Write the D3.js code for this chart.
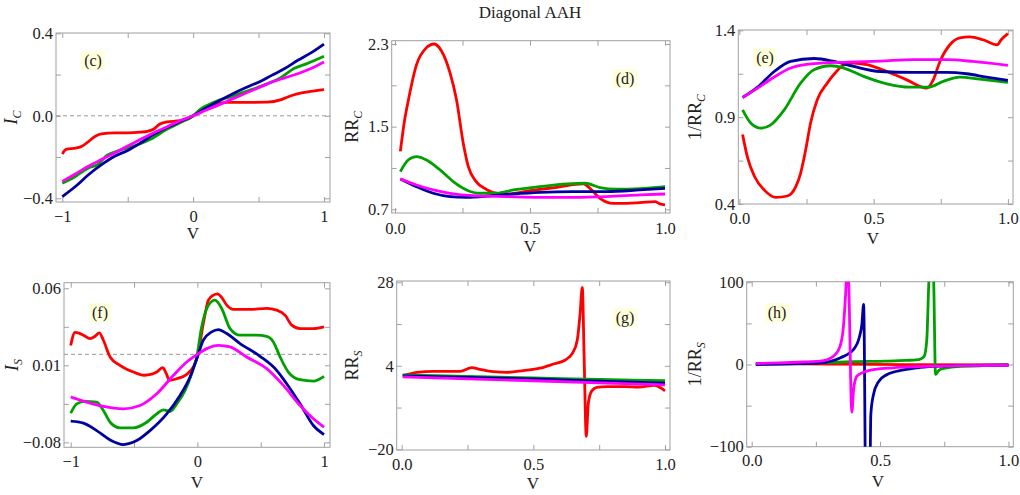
<!DOCTYPE html>
<html>
<head>
  <meta charset="utf-8">
  <title>Diagonal AAH</title>
  <script src="https://cdn.jsdelivr.net/npm/d3@7"></script>
  <style>
    body { margin: 0; background: #fff; }
    svg text { font-family: "Liberation Serif", "DejaVu Serif", serif; fill: #222; }
  </style>
</head>
<body>
<svg id="chart" width="1020" height="495"></svg>
<script>
// ---- data: [V, value] pairs per curve ----
const cRed = [[-1,-0.185],[-0.97,-0.163],[-0.9,-0.157],[-0.85,-0.148],[-0.8,-0.125],[-0.75,-0.1],[-0.7,-0.088],
  [-0.6,-0.083],[-0.5,-0.083],[-0.4,-0.079],[-0.35,-0.075],[-0.3,-0.064],[-0.26,-0.042],[-0.2,-0.03],[-0.1,-0.024],
  [-0.03,-0.012],[0,0],[0.056,0.028],[0.158,0.054],[0.26,0.065],[0.4,0.065],[0.566,0.066],[0.667,0.077],
  [0.718,0.09],[0.795,0.106],[0.897,0.118],[1,0.127]];
const cGreen = [[-1,-0.327],[-0.9,-0.294],[-0.8,-0.253],[-0.73,-0.237],[-0.657,-0.191],[-0.58,-0.171],
  [-0.453,-0.147],[-0.326,-0.114],[-0.2,-0.065],[-0.097,-0.033],[0,0],[0.056,0.033],[0.158,0.065],[0.31,0.098],
  [0.464,0.131],[0.566,0.155],[0.667,0.184],[0.77,0.229],[0.87,0.253],[1,0.289]];
const cBlue = [[-1,-0.392],[-0.9,-0.343],[-0.8,-0.286],[-0.7,-0.237],[-0.6,-0.196],[-0.5,-0.168],[-0.4,-0.131],
  [-0.3,-0.09],[-0.2,-0.057],[-0.1,-0.028],[0,0],[0.1,0.038],[0.2,0.073],[0.3,0.106],[0.4,0.136],[0.5,0.163],
  [0.6,0.196],[0.7,0.229],[0.8,0.269],[0.9,0.305],[1,0.348]];
const cMagenta = [[-1,-0.318],[-0.9,-0.282],[-0.8,-0.245],[-0.7,-0.212],[-0.6,-0.18],[-0.5,-0.147],[-0.4,-0.114],
  [-0.3,-0.082],[-0.2,-0.054],[-0.1,-0.024],[0,0],[0.1,0.028],[0.2,0.054],[0.3,0.082],[0.4,0.109],[0.5,0.136],
  [0.6,0.163],[0.7,0.184],[0.8,0.204],[0.9,0.229],[1,0.261]];

const dRed = [[0.02,1.26],[0.035,1.55],[0.05,1.76],[0.08,2.1],[0.115,2.26],[0.145,2.3],[0.173,2.23],[0.204,2.02],
  [0.228,1.76],[0.253,1.34],[0.272,1.11],[0.3,0.97],[0.34,0.89],[0.377,0.855],[0.414,0.848],[0.5,0.88],
  [0.6,0.913],[0.698,0.945],[0.722,0.903],[0.759,0.806],[0.809,0.758],[0.858,0.758],[0.907,0.764],
  [0.963,0.774],[0.981,0.752],[1,0.742]];
const dGreen = [[0.02,1.065],[0.049,1.177],[0.08,1.21],[0.117,1.177],[0.167,1.081],[0.216,0.968],[0.265,0.887],
  [0.315,0.855],[0.377,0.855],[0.438,0.887],[0.537,0.919],[0.636,0.945],[0.704,0.952],[0.759,0.91],
  [0.821,0.894],[0.907,0.9],[1,0.919]];
const dBlue = [[0.02,0.994],[0.08,0.919],[0.142,0.855],[0.204,0.823],[0.265,0.816],[0.352,0.829],[0.438,0.848],
  [0.537,0.864],[0.66,0.871],[0.784,0.871],[0.907,0.887],[1,0.903]];
const dMagenta = [[0.02,0.994],[0.08,0.935],[0.142,0.887],[0.204,0.855],[0.29,0.832],[0.414,0.823],[0.537,0.816],
  [0.66,0.816],[0.784,0.823],[0.907,0.839],[1,0.848]];

const eRed = [[0.012,0.8],[0.03,0.67],[0.056,0.56],[0.093,0.48],[0.136,0.438],[0.179,0.446],[0.21,0.5],
  [0.228,0.577],[0.247,0.712],[0.265,0.865],[0.29,1.0],[0.327,1.096],[0.36,1.16],[0.389,1.2],[0.426,1.212],
  [0.475,1.202],[0.549,1.163],[0.623,1.115],[0.698,1.067],[0.722,1.115],[0.747,1.221],[0.784,1.317],
  [0.821,1.356],[0.858,1.362],[0.907,1.346],[0.96,1.317],[0.975,1.346],[1,1.381]];
const eGreen = [[0.012,0.942],[0.043,0.865],[0.08,0.837],[0.117,0.856],[0.167,0.942],[0.228,1.096],[0.278,1.173],
  [0.34,1.196],[0.389,1.183],[0.463,1.135],[0.549,1.092],[0.636,1.073],[0.704,1.073],[0.759,1.106],
  [0.821,1.131],[0.895,1.119],[1,1.1]];
const eBlue = [[0.012,1.013],[0.068,1.073],[0.13,1.163],[0.191,1.221],[0.278,1.238],[0.352,1.221],[0.426,1.192],
  [0.525,1.163],[0.648,1.158],[0.772,1.158],[0.846,1.15],[0.92,1.131],[1,1.112]];
const eMagenta = [[0.012,1.013],[0.068,1.067],[0.13,1.131],[0.191,1.183],[0.278,1.208],[0.401,1.217],
  [0.525,1.223],[0.648,1.231],[0.772,1.231],[0.87,1.221],[1,1.198]];

const fRed = [[-1,0.008],[-0.966,0.02],[-0.93,0.019],[-0.9,0.0174],[-0.847,0.0143],[-0.808,0.0164],
  [-0.774,0.0195],[-0.742,0.0128],[-0.689,-0.0024],[-0.611,-0.01],[-0.505,-0.0161],[-0.42,-0.019],
  [-0.36,-0.018],[-0.321,-0.0161],[-0.274,-0.0121],[-0.247,-0.017],[-0.221,-0.0237],[-0.163,-0.0222],
  [-0.084,-0.0182],[-0.032,-0.0115],[0,-0.0024],[0.047,0.028],[0.087,0.0493],[0.126,0.0538],[0.16,0.055],
  [0.19,0.052],[0.232,0.0447],[0.284,0.0408],[0.416,0.0408],[0.547,0.0417],[0.626,0.0402],[0.692,0.0356],
  [0.745,0.0265],[0.811,0.0234],[0.916,0.0234],[1,0.025]];
const fGreen = [[-1,-0.0535],[-0.953,-0.045],[-0.887,-0.0428],[-0.795,-0.0434],[-0.742,-0.051],[-0.689,-0.0617],
  [-0.611,-0.0668],[-0.505,-0.0668],[-0.4,-0.0617],[-0.321,-0.0541],[-0.268,-0.0504],[-0.216,-0.0519],
  [-0.163,-0.045],[-0.097,-0.0328],[-0.045,-0.0176],[-0.005,-0.0024],[0.034,0.025],[0.087,0.0447],
  [0.139,0.0493],[0.192,0.0417],[0.258,0.0234],[0.337,0.0174],[0.468,0.0174],[0.547,0.0164],[0.6,0.0113],
  [0.653,-0.0024],[0.718,-0.0161],[0.811,-0.0231],[0.916,-0.0243],[1,-0.02]];
const fBlue = [[-1,-0.0608],[-0.9,-0.0626],[-0.795,-0.0693],[-0.689,-0.0778],[-0.584,-0.082],[-0.479,-0.0784],
  [-0.374,-0.0693],[-0.242,-0.0541],[-0.137,-0.0374],[-0.058,-0.0206],[0,-0.0024],[0.047,0.0128],
  [0.113,0.0204],[0.166,0.0225],[0.232,0.0189],[0.337,0.0098],[0.495,-0.0018],[0.626,-0.0146],
  [0.705,-0.0267],[0.811,-0.045],[0.916,-0.0647],[1,-0.0729]];
const fMagenta = [[-1,-0.0389],[-0.874,-0.0434],[-0.742,-0.0474],[-0.584,-0.0495],[-0.453,-0.0465],
  [-0.321,-0.0358],[-0.189,-0.0191],[-0.084,-0.007],[0,0],[0.074,0.0052],[0.166,0.0082],[0.258,0.0067],
  [0.389,-0.0024],[0.547,-0.013],[0.679,-0.0282],[0.811,-0.0465],[0.916,-0.0586],[1,-0.0662]];

const gRed = [[0.004,1.1],[0.057,2.1],[0.12,2.4],[0.184,2.4],[0.222,2.4],[0.266,3.5],[0.297,3.0],[0.348,2.3],
  [0.399,2.1],[0.462,2.6],[0.525,3.3],[0.58,4.6],[0.62,5.6],[0.65,7.8],[0.667,11.5],[0.677,18.5],[0.686,26.5],
  [0.693,6],[0.701,-16.3],[0.709,-6.6],[0.722,-3.2],[0.741,-2.2],[0.78,-2.0],[0.85,-2.0],[0.9,-2.1],
  [0.96,-1.6],[0.985,-2.4],[1,-3.2]];
const gGreen = [[0.004,1.4],[0.25,0.95],[0.5,0.5],[0.75,0.1],[1,-0.3]];
const gBlue = [[0.004,1.1],[0.25,0.65],[0.5,0.2],[0.75,-0.4],[1,-1.0]];
const gMagenta = [[0.004,0.8],[0.25,0.25],[0.5,-0.3],[0.75,-0.9],[1,-1.5]];

const hRed = [[0.016,0.8],[0.3,0.4],[0.6,-0.2],[1,-0.6]];
const hGreen = [[0.016,0.3],[0.25,2],[0.4,3.5],[0.52,4],[0.6,5],[0.64,5.5],[0.66,7],[0.672,10],[0.682,30],
  [0.69,100],[0.7,150],[0.709,100],[0.716,-12],[0.722,-10],[0.734,-6],[0.76,-4],[0.8,-2.5],[0.9,-1.5],[1,-1.2]];
const hBlue = [[0.016,0],[0.18,1],[0.266,2],[0.344,8],[0.396,18],[0.42,34],[0.429,48],[0.436,73],[0.447,-250],
  [0.457,-250],[0.464,-61],[0.474,-37],[0.494,-21],[0.526,-12.5],[0.591,-6.5],[0.656,-3.6],[0.734,-2],
  [0.85,-1.2],[1,-0.6]];
const hMagenta = [[0.016,1.2],[0.11,2],[0.2,3],[0.266,4],[0.318,10],[0.344,22],[0.357,45],[0.368,100],
  [0.373,140],[0.378,100],[0.39,-58],[0.397,-30],[0.41,-14],[0.44,-9],[0.48,-6],[0.55,-4],[0.65,-2.5],
  [0.8,-1.5],[1,-1]];

// ---- ticks and labels ----
const xTicksSym = [-1, 0, 1], xLabelsSym = ["\u22121", "0", "1"], xMinorSym = [-0.5, 0.5];
const xTicksPos = [0, 0.5, 1], xLabelsPos = ["0.0", "0.5", "1.0"], xMinorPos = [0.25, 0.75];
const yTicksC = [-0.4, 0, 0.4],    yLabelsC = ["\u22120.4", "0.0", "0.4"],     yMinorC = [-0.2, 0.2];
const yTicksD = [0.7, 1.5, 2.3],   yLabelsD = ["0.7", "1.5", "2.3"],           yMinorD = [1.1, 1.9];
const yTicksE = [0.4, 0.9, 1.4],   yLabelsE = ["0.4", "0.9", "1.4"],           yMinorE = [0.65, 1.15];
const yTicksF = [-0.08, -0.01, 0.06], yLabelsF = ["\u22120.08", "0.01", "0.06"], yMinorF = [-0.045, 0.025];
const yTicksG = [-20, 4, 28],      yLabelsG = ["\u221220", "4", "28"],          yMinorG = [-8, 16];
const yTicksH = [-100, 0, 100],    yLabelsH = ["\u2212100", "0", "100"],        yMinorH = [-50, 50];

const colors = ["#ff0000", "#00a000", "#0000a0", "#ff00ff"];

const panels = [
  { tag: "(c)", series: [cRed, cGreen, cBlue, cMagenta], box: [56, 33, 274, 169],
    xDom: [-1.048, 1.046], yDom: [-0.418, 0.4015], xt: xTicksSym, xl: xLabelsSym, xm: xMinorSym,
    yt: yTicksC, yl: yLabelsC, ym: yMinorC, zero: true, yName: ["I", "C", true], tagPos: [93, 60],
    vPos: [193, 233], yPos: 11 },
  { tag: "(d)", series: [dRed, dGreen, dBlue, dMagenta], box: [391.7, 40.7, 278.3, 172.3],
    xDom: [-0.012, 1.0185], yDom: [0.664, 2.332], xt: xTicksPos, xl: xLabelsPos, xm: xMinorPos,
    yt: yTicksD, yl: yLabelsD, ym: yMinorD, yName: ["RR", "C", false], tagPos: [625, 78],
    vPos: [530, 246], yPos: 352, xPad: 9 },
  { tag: "(e)", series: [eRed, eGreen, eBlue, eMagenta], box: [738.3, 30, 274.7, 174],
    xDom: [-0.004, 1.019], yDom: [0.4, 1.402], xt: xTicksPos, xl: xLabelsPos, xm: xMinorPos,
    yt: yTicksE, yl: yLabelsE, ym: yMinorE, yName: ["1/RR", "C", false], tagPos: [765, 57],
    vPos: [873, 238], yPos: 695 },
  { tag: "(f)", series: [fRed, fGreen, fBlue, fMagenta], box: [64, 282.7, 266, 164.6],
    xDom: [-1.053, 1.047], yDom: [-0.0845, 0.0651], xt: xTicksSym, xl: xLabelsSym, xm: xMinorSym,
    yt: yTicksF, yl: yLabelsF, ym: yMinorF, zero: true, yName: ["I", "S", true], tagPos: [100, 312],
    vPos: [197, 482], yPos: 12 },
  { tag: "(g)", series: [gRed, gGreen, gBlue, gMagenta], box: [396.7, 281, 273.3, 169],
    xDom: [-0.019, 1.019], yDom: [-20.2, 28.37], xt: xTicksPos, xl: xLabelsPos, xm: xMinorPos,
    yt: yTicksG, yl: yLabelsG, ym: yMinorG, yName: ["RR", "S", false], tagPos: [625, 317],
    vPos: [533, 483], yPos: 352 },
  { tag: "(h)", series: [hRed, hGreen, hBlue, hMagenta], box: [746.7, 281.7, 266.6, 165],
    xDom: [-0.0195, 1.019], yDom: [-100, 100.7], xt: xTicksPos, xl: xLabelsPos, xm: xMinorPos,
    yt: yTicksH, yl: yLabelsH, ym: yMinorH, yName: ["1/RR", "S", false], tagPos: [777, 312],
    vPos: [878, 481], yPos: 695 }
];

const svg = d3.select("#chart");
const frameColor = "#a0a0a0";

svg.append("text")
  .attr("x", 530).attr("y", 18)
  .attr("text-anchor", "middle")
  .style("font-size", "17px")
  .text("Diagonal AAH");

panels.forEach(function(p, i) {
  const [left, top, w, h] = p.box;
  const x = d3.scaleLinear().domain(p.xDom).range([0, w]);
  const y = d3.scaleLinear().domain(p.yDom).range([h, 0]);
  const g = svg.append("g").attr("transform", `translate(${left},${top})`);

  g.append("clipPath").attr("id", "clip" + i)
    .append("rect").attr("width", w).attr("height", h);

  const allX = p.xt.concat(p.xm), allY = p.yt.concat(p.ym);
  const fmt = function(ticks, labels) {
    return function(d) { const k = ticks.indexOf(d); return k < 0 ? "" : labels[k]; };
  };

  // axes: ticks pointing inward, labels on left/bottom only
  const styleAxis = function(sel) {
    sel.select(".domain").remove();
    sel.selectAll(".tick line").attr("stroke", frameColor);
    sel.selectAll(".tick text").style("font-size", "16.5px").attr("fill", "#222")
      .style("font-family", '"Liberation Serif", serif');
  };
  g.append("g").attr("transform", `translate(0,${h})`)
    .call(d3.axisBottom(x).tickValues(allX).tickSize(-5).tickPadding(p.xPad || 8)
      .tickFormat(fmt(p.xt, p.xl))).call(styleAxis);
  g.append("g")
    .call(d3.axisTop(x).tickValues(allX).tickSize(-5).tickFormat("")).call(styleAxis);
  g.append("g")
    .call(d3.axisLeft(y).tickValues(allY).tickSize(-5).tickPadding(3)
      .tickFormat(fmt(p.yt, p.yl))).call(styleAxis);
  g.append("g").attr("transform", `translate(${w},0)`)
    .call(d3.axisRight(y).tickValues(allY).tickSize(-5).tickFormat("")).call(styleAxis);

  g.append("rect").attr("width", w).attr("height", h)
    .attr("fill", "none").attr("stroke", frameColor).attr("stroke-width", 1);

  if (p.zero) {
    g.append("line").attr("x1", 0).attr("x2", w).attr("y1", y(0)).attr("y2", y(0))
      .attr("stroke", "#999").attr("stroke-dasharray", "4,3").attr("stroke-width", 1);
  }

  const line = d3.line()
    .x(function(d) { return x(d[0]); })
    .y(function(d) { return y(d[1]); })
    .curve(d3.curveMonotoneX);

  g.append("g").attr("clip-path", `url(#clip${i})`)
    .selectAll("path").data(p.series).enter().append("path")
    .attr("d", line)
    .attr("fill", "none")
    .attr("stroke", function(d, k) { return colors[k]; })
    .attr("stroke-width", 2.8)
    .attr("stroke-linejoin", "round");

  // panel tag with pale yellow box
  const tg = svg.append("g").attr("transform", `translate(${p.tagPos[0]},${p.tagPos[1]})`);
  const tt = tg.append("text").attr("text-anchor", "middle").attr("dy", "0.35em")
    .style("font-size", "16px").text(p.tag);
  const bb = tt.node().getBBox();
  tg.insert("rect", "text")
    .attr("x", bb.x - 3).attr("y", bb.y - 0.5)
    .attr("width", bb.width + 6).attr("height", bb.height + 1)
    .attr("fill", "#ffffdc");

  // x label
  svg.append("text").attr("x", p.vPos[0]).attr("y", p.vPos[1]).attr("dy", "0.35em")
    .attr("text-anchor", "middle").style("font-size", "17px").text("V");

  // y label (rotated), with subscript
  const yl = svg.append("text")
    .attr("transform", `translate(${p.yPos},${top + h / 2}) rotate(-90)`)
    .attr("text-anchor", "middle").attr("dy", "0.35em").style("font-size", "18px");
  yl.append("tspan").style("font-style", p.yName[2] ? "italic" : "normal").text(p.yName[0]);
  yl.append("tspan").style("font-style", "italic").style("font-size", "12px")
    .attr("dy", 4).text(p.yName[1]);
});
</script>
</body>
</html>
